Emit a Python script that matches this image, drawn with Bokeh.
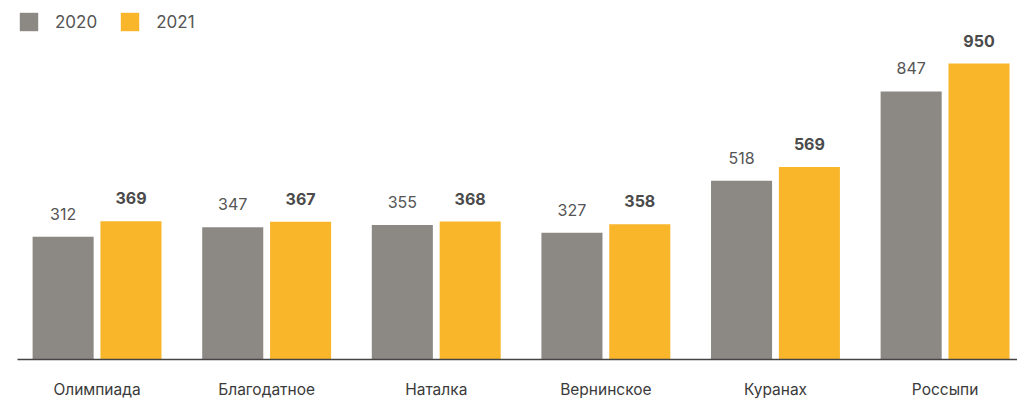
import numpy as np
from bokeh.plotting import figure
from bokeh.models import (ColumnDataSource, LabelSet, Legend, LegendItem,
                          FixedTicker, Range1d)
from bokeh.core.properties import value
from bokeh.embed import file_html
from bokeh.resources import INLINE

categories = ["Олимпиада", "Благодатное", "Наталка", "Вернинское", "Куранах", "Россыпи"]
v2020 = [312, 347, 355, 327, 518, 847]
v2021 = [369, 367, 368, 358, 569, 950]
series_names = ["2020", "2021"]

GRAY = "#8c8985"
YELLOW = "#f9b62b"
FONT = "Inter"
BASE = -140

xs = np.arange(len(categories)) + 0.5
src = ColumnDataSource(dict(
    x20=xs - 0.2, x21=xs + 0.2,
    v20=v2020, v21=v2021,
    t20=[str(v) for v in v2020], t21=[str(v) for v in v2021],
))

p = figure(width=1017, height=401, output_backend="svg", toolbar_location=None,
           x_range=Range1d(0.031, 5.927), y_range=Range1d(BASE, 1182),
           y_axis_location=None, min_border_left=17, min_border_right=0,
           min_border_top=0, min_border_bottom=42)
p.outline_line_color = None
p.grid.visible = False

r20 = p.vbar(x="x20", top="v20", bottom=BASE, width=0.36, source=src,
             fill_color=GRAY, line_color=None)
r21 = p.vbar(x="x21", top="v21", bottom=BASE, width=0.36, source=src,
             fill_color=YELLOW, line_color=None)

p.add_layout(LabelSet(x="x20", y="v20", text="t20", source=src, y_offset=23,
                      text_align="center", text_baseline="middle",
                      text_font=value(FONT), text_font_size="16px", text_color="#555555"))
p.add_layout(LabelSet(x="x21", y="v21", text="t21", source=src, y_offset=23,
                      text_align="center", text_baseline="middle",
                      text_font=value(FONT), text_font_size="16px", text_font_style="bold",
                      text_color="#4a4a4a"))

ax = p.xaxis[0]
ax.ticker = FixedTicker(ticks=list(xs))
ax.major_label_overrides = {float(x): c for x, c in zip(xs, categories)}
ax.major_tick_line_color = None
ax.minor_tick_line_color = None
ax.axis_line_color = "#444444"
ax.axis_line_width = 1.5
ax.major_label_standoff = 14
ax.major_label_text_font = FONT
ax.major_label_text_font_size = "15.5px"
ax.major_label_text_color = "#3a3a3a"

legend = Legend(items=[LegendItem(label=series_names[0], renderers=[r20]),
                       LegendItem(label=series_names[1], renderers=[r21])],
                location=(0, 326), orientation="horizontal", padding=0, margin=0,
                spacing=21, glyph_width=23, glyph_height=23, label_standoff=15,
                label_text_font=FONT, label_text_font_size="17px",
                label_text_color="#555555", border_line_color=None,
                background_fill_alpha=0)
p.add_layout(legend)

open("out.html", "w").write(file_html(p, INLINE))
